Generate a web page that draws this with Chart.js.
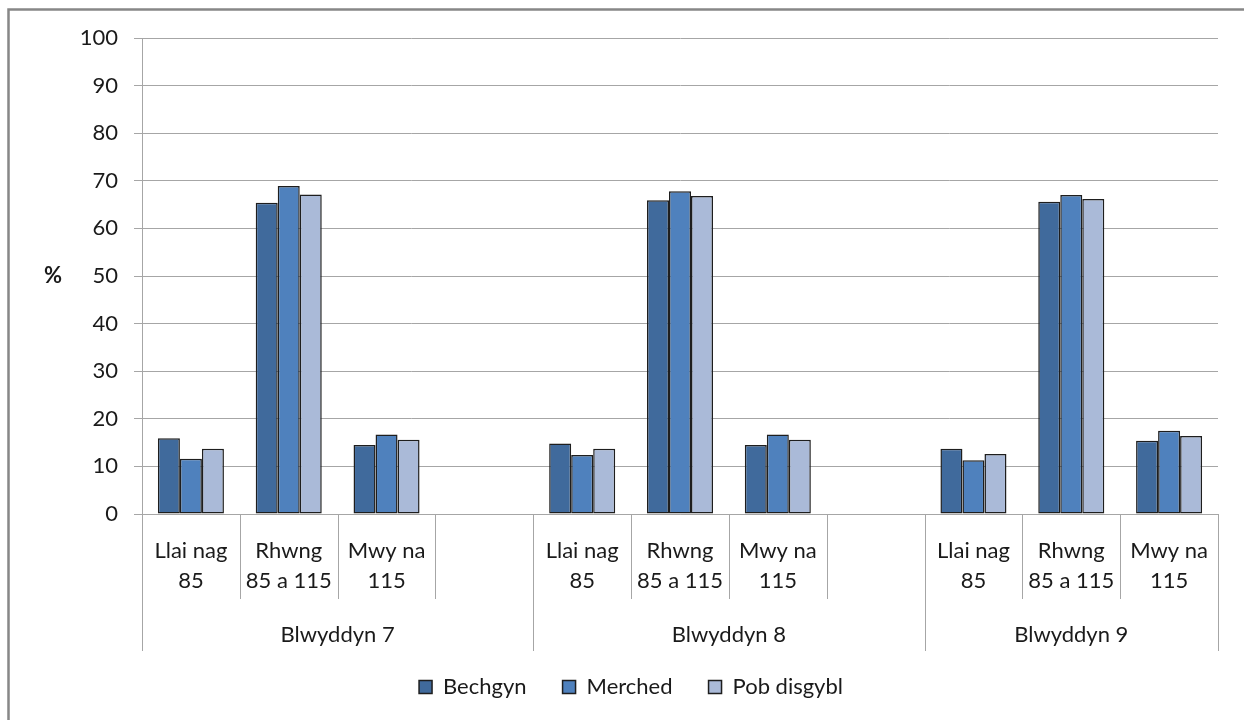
<!DOCTYPE html>
<html>
<head>
<meta charset="utf-8">
<script src="https://cdn.jsdelivr.net/npm/chart.js@4/dist/chart.umd.min.js"></script>
<style>
  html, body { margin: 0; padding: 0; background: #fff; }
  #wrap { width: 1244px; height: 720px; position: relative; }
</style>
</head>
<body>
<div id="wrap"><canvas id="chart"></canvas></div>
<script>
// categories (empty slot after each year, as in the original sheet)
const categories = [
  ["Llai nag", "85"], ["Rhwng", "85 a 115"], ["Mwy na", "115"], "",
  ["Llai nag", "85"], ["Rhwng", "85 a 115"], ["Mwy na", "115"], "",
  ["Llai nag", "85"], ["Rhwng", "85 a 115"], ["Mwy na", "115"]
];
const groups = ["Blwyddyn 7", "Blwyddyn 8", "Blwyddyn 9"];
const groupSizes = [4, 4, 3];

const bechgyn = [15.9, 65.4, 14.5, null, 14.8, 65.9, 14.5, null, 13.7, 65.6, 15.4];
const merched = [11.6, 68.9, 16.7, null, 12.4, 67.8, 16.7, null, 11.3, 67.0, 17.5];
const pobDisgybl = [13.7, 67.1, 15.6, null, 13.7, 66.8, 15.6, null, 12.6, 66.2, 16.4];

const yTicks = [0, 10, 20, 30, 40, 50, 60, 70, 80, 90, 100];

const FONT = "Lato";
const TEXT = "#1a1a1a";
const GRID = "#a6a6a6";

// group labels, dividers, "%" title and the outer frame
const extras = {
  id: "extras",
  afterDraw(chart) {
    const { ctx, chartArea, scales } = chart;
    const x = scales.x;
    const half = (x.getPixelForValue(1) - x.getPixelForValue(0)) / 2;
    const edge = i => x.getPixelForValue(i) - half;
    const groupStarts = [0];
    groupSizes.forEach(n => groupStarts.push(groupStarts[groupStarts.length - 1] + n));

    ctx.save();
    ctx.strokeStyle = GRID;
    ctx.lineWidth = 1;
    for (let i = 0; i <= categories.length; i++) {
      const px = Math.round(edge(i)) + 0.5;
      const long = groupStarts.includes(i);
      ctx.beginPath();
      ctx.moveTo(px, chartArea.bottom);
      ctx.lineTo(px, chartArea.bottom + (long ? 137 : 85));
      ctx.stroke();
    }

    ctx.fillStyle = TEXT;
    ctx.font = `22px ${FONT}`;
    ctx.textAlign = "center";
    ctx.textBaseline = "middle";
    groups.forEach((g, k) => {
      const cx = (edge(groupStarts[k]) + edge(groupStarts[k + 1])) / 2;
      ctx.fillText(g, cx, chartArea.bottom + 121);
    });

    ctx.font = `bold 22px ${FONT}`;
    ctx.fillText("%", 53, (chartArea.top + chartArea.bottom) / 2);

    ctx.strokeStyle = "#878787";
    ctx.lineWidth = 2.5;
    ctx.beginPath();
    ctx.moveTo(8.5, 760);
    ctx.lineTo(8.5, 9.5);
    ctx.lineTo(1300, 9.5);
    ctx.stroke();
    ctx.restore();
  }
};

const barStyle = { borderColor: "#1e1e1e", borderWidth: 1.5, borderSkipped: false };

new Chart(document.getElementById("chart"), {
  type: "bar",
  data: {
    labels: categories,
    datasets: [
      { label: "Bechgyn", data: bechgyn, backgroundColor: "#406a9c", ...barStyle },
      { label: "Merched", data: merched, backgroundColor: "#4f81bd", ...barStyle },
      { label: "Pob disgybl", data: pobDisgybl, backgroundColor: "#aabad8", ...barStyle }
    ]
  },
  options: {
    responsive: true,
    maintainAspectRatio: false,
    animation: false,
    layout: { padding: { top: 38, right: 26, bottom: 12, left: 44 } },
    datasets: { bar: { categoryPercentage: 0.675, barPercentage: 1.0 } },
    scales: {
      x: {
        grid: { display: false, drawTicks: false },
        border: { color: GRID, width: 1 },
        ticks: {
          color: TEXT,
          font: { family: FONT, size: 22, lineHeight: 1.36 },
          padding: 22,
          maxRotation: 0,
          autoSkip: false
        },
        afterFit(scale) { scale.height = 126; }
      },
      y: {
        min: 0,
        max: 100,
        afterBuildTicks(scale) { scale.ticks = yTicks.map(v => ({ value: v })); },
        grid: { color: GRID, tickLength: 8, drawTicks: true, tickColor: GRID },
        border: { color: GRID, width: 1 },
        ticks: {
          color: TEXT,
          font: { family: FONT, size: 22 },
          padding: 16
        },
        afterFit(scale) { scale.width = 98; }
      }
    },
    plugins: {
      legend: {
        position: "bottom",
        labels: {
          color: TEXT,
          font: { family: FONT, size: 22 },
          boxWidth: 13,
          boxHeight: 13,
          padding: 36
        }
      },
      tooltip: { enabled: false }
    }
  },
  plugins: [extras]
});
</script>
</body>
</html>
